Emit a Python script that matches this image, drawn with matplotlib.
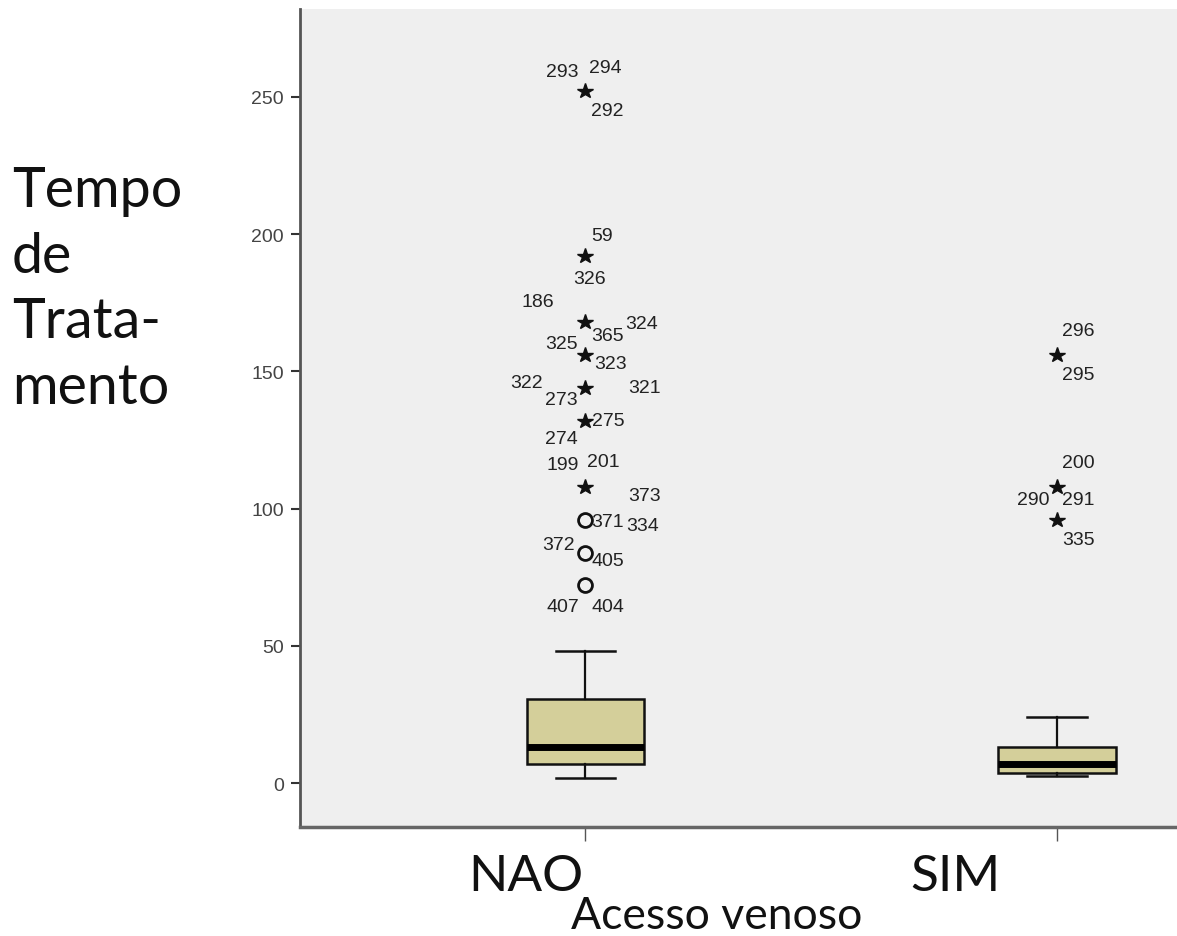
import matplotlib
matplotlib.use("Agg")
import matplotlib.pyplot as plt
from matplotlib.transforms import ScaledTranslation

# groups on the x axis
groups = ["NAO", "SIM"]
positions = [1, 2]

# box summaries (tempo de tratamento)
q1 = [7, 3.5]
medians = [13, 7]
q3 = [30.5, 13]
whisker_low = [2, 2.5]
whisker_high = [48, 24]

# outlying cases: group index, value, marker kind, case numbers
case_group = [0, 0, 0, 0, 0, 0, 0, 0, 0, 0, 1, 1, 1]
case_value = [252, 192, 168, 156, 144, 132, 108, 96, 84, 72, 156, 108, 96]
case_kind = ["ext", "ext", "ext", "ext", "ext", "ext", "ext",
             "out", "out", "out", "ext", "ext", "ext"]
case_ids = [["293", "294", "292"], ["59", "326"], ["186", "365", "324"],
            ["325", "323"], ["322", "273", "321"], ["275", "274"],
            ["199", "201", "373"], ["371", "334"], ["372", "405"],
            ["407", "404"], ["296", "295"], ["200", "290", "291"], ["335"]]

# where each case number sits around its marker (pixels, right / down)
label_offsets = {
    "293": (-23, -20), "294": (20, -24), "292": (22, 19),
    "59": (17, -21), "326": (4, 22),
    "186": (-48, -20), "365": (22, 14), "324": (56, 2),
    "325": (-24, -11), "323": (25, 9),
    "322": (-59, -5), "273": (-24, 12), "321": (59, 0),
    "275": (23, 0), "274": (-24, 18),
    "199": (-23, -22), "201": (18, -25), "373": (59, 9),
    "371": (22, 2), "334": (57, 6),
    "372": (-27, -8), "405": (22, 8),
    "407": (-23, 21), "404": (22, 21),
    "296": (21, -24), "295": (21, 20),
    "200": (21, -24), "290": (-24, 13), "291": (21, 13),
    "335": (22, 20),
}

fig = plt.figure(figsize=(11.77, 9.37), dpi=100)
ax = fig.add_axes([300 / 1177, 1 - 828 / 937, 877 / 1177, 818 / 937])
ax.set_facecolor("#efefef")

stats = []
for i in range(len(groups)):
    stats.append({"med": medians[i], "q1": q1[i], "q3": q3[i],
                  "whislo": whisker_low[i], "whishi": whisker_high[i],
                  "fliers": []})

ax.bxp(stats, positions=positions, widths=0.25, capwidths=0.127,
       showfliers=False, patch_artist=True,
       boxprops=dict(facecolor="#d4cf9a", edgecolor="#111111", linewidth=1.8),
       medianprops=dict(color="#000000", linewidth=5, solid_capstyle="butt"),
       whiskerprops=dict(color="#111111", linewidth=1.6),
       capprops=dict(color="#111111", linewidth=1.8))

# outliers (circles) and extremes (stars), with their case numbers
for g, v, kind, ids in zip(case_group, case_value, case_kind, case_ids):
    x = positions[g]
    if kind == "out":
        ax.plot(x, v, marker="o", markersize=10, markerfacecolor="none",
                markeredgecolor="#111111", markeredgewidth=2, zorder=4)
    else:
        ax.plot(x, v, marker="*", markersize=11.5, color="#111111", zorder=4)
    for cid in ids:
        dx, dy = label_offsets[cid]
        ax.annotate(cid, (x, v), xytext=(dx, -dy), textcoords="offset pixels",
                    ha="center", va="center", fontsize=14,
                    family="Liberation Sans", color="#222222")

ax.set_xlim(0.3945, 2.2545)
ax.set_ylim(-16, 282)
ax.set_yticks([0, 50, 100, 150, 200, 250])
for lab in ax.get_yticklabels():
    lab.set_family("Liberation Sans")
ax.tick_params(axis="y", length=6.5, width=1.5, color="#333333", pad=5,
               labelsize=14, labelcolor="#444444")

ax.set_xticks(positions)
ax.set_xticklabels(groups, family="Lato", fontsize=37, color="#111111")
ax.tick_params(axis="x", length=10, width=1, color="#555555", pad=9)
# shift the group names a little to the left of their ticks
for lab, shift in zip(ax.get_xticklabels(), [-60, -102]):
    lab.set_transform(lab.get_transform() +
                      ScaledTranslation(shift / 100, 0, fig.dpi_scale_trans))

for side in ["top", "right"]:
    ax.spines[side].set_visible(False)
ax.spines["left"].set_color("#555555")
ax.spines["left"].set_linewidth(2)
ax.spines["bottom"].set_color("#666666")
ax.spines["bottom"].set_linewidth(2.5)

fig.text(12 / 1177, 1 - 290 / 937, "Tempo\nde\nTrata-\nmento", ha="left",
         va="center", family="Lato", fontsize=40, color="#111111",
         linespacing=1.36)
fig.text(717 / 1177, 1 - 917 / 937, "Acesso venoso", ha="center", va="center",
         family="Lato", fontsize=32, color="#111111")

fig.savefig("out.png", dpi=100)
